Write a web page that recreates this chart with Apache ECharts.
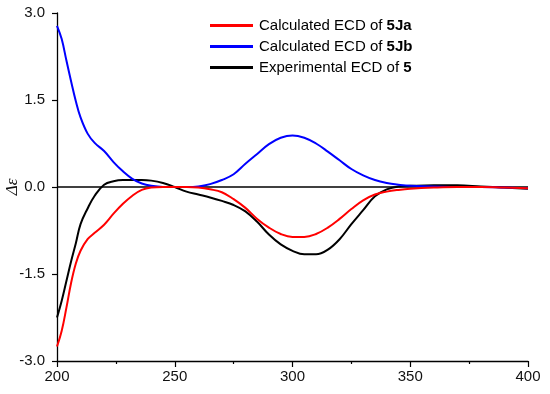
<!DOCTYPE html>
<html><head><meta charset="utf-8">
<script src="https://cdn.jsdelivr.net/npm/echarts@6/dist/echarts.min.js"></script>
<style>html,body{margin:0;padding:0;background:#fff}#c{width:550px;height:394px}</style>
</head><body><div id="c"></div>
<script>
const wavelengths = [200,202,204,206,208,210,213,216,220,224,228,232,236,240,245,250,255,260,265,270,275,280,285,290,295,300,305,310,315,320,325,330,335,340,345,350,360,370,380,390,400];
const calc5Ja = [-2.75,-2.48,-2.08,-1.65,-1.32,-1.10,-0.90,-0.79,-0.65,-0.46,-0.29,-0.15,-0.05,-0.01,0.0,0.0,0.0,-0.01,-0.04,-0.09,-0.21,-0.36,-0.55,-0.70,-0.81,-0.86,-0.86,-0.81,-0.70,-0.55,-0.38,-0.23,-0.13,-0.08,-0.05,-0.03,-0.01,0.0,0.0,-0.01,-0.02];
const calc5Jb = [2.78,2.55,2.18,1.82,1.48,1.20,0.92,0.76,0.62,0.43,0.27,0.14,0.06,0.02,0.0,0.0,0.0,0.01,0.05,0.12,0.22,0.40,0.57,0.74,0.85,0.89,0.85,0.75,0.61,0.46,0.31,0.20,0.12,0.07,0.04,0.02,0.01,0.0,0.0,-0.01,-0.02];
const experimental5 = [-2.25,-1.96,-1.62,-1.28,-0.97,-0.64,-0.37,-0.15,0.04,0.10,0.12,0.12,0.12,0.11,0.07,0.0,-0.08,-0.13,-0.18,-0.24,-0.31,-0.42,-0.60,-0.82,-0.99,-1.10,-1.16,-1.16,-1.08,-0.90,-0.64,-0.40,-0.16,-0.04,0.01,0.02,0.03,0.03,0.01,-0.01,-0.03];
const seriesNames = ['Calculated ECD of 5Ja','Calculated ECD of 5Jb','Experimental ECD of 5'];
const seriesColors = ['#ff0000','#0000ff','#000000'];
const xRange = [200, 400];
const yRange = [-3, 3];

const pairs = arr => wavelengths.map((w,i)=>[w, arr[i]]);
const values = [calc5Ja, calc5Jb, experimental5];

const chart = echarts.init(document.getElementById('c'), null, {renderer:'canvas'});
const font = '"Liberation Sans", Arial, sans-serif';
chart.setOption({
  animation:false,
  grid:{left:57,right:22,top:13,bottom:33,containLabel:false,outerBoundsMode:'none'},
  legend:{
    orient:'vertical', left:210, top:18, padding:0, itemWidth:43, itemHeight:3, itemGap:6,
    icon:'rect',
    data:seriesNames,
    formatter: n => { const p = n.lastIndexOf(' '); return n.slice(0,p+1) + '{b|' + n.slice(p+1) + '}'; },
    textStyle:{fontFamily:font,fontSize:15,lineHeight:14,color:'#000',padding:[0,0,0,1],
      rich:{b:{fontFamily:font,fontSize:15,lineHeight:14,fontWeight:'bold',color:'#000'}}}
  },
  xAxis:{type:'value',min:xRange[0],max:xRange[1],interval:50,
    axisLine:{onZero:false,lineStyle:{color:'#000',width:1.3}},
    axisTick:{length:6,lineStyle:{color:'#000',width:1.2}},
    minorTick:{show:true,splitNumber:2,length:3,lineStyle:{color:'#000',width:1.2}},
    axisLabel:{fontFamily:font,fontSize:15,color:'#111',margin:8},
    splitLine:{show:false}},
  yAxis:{type:'value',min:yRange[0],max:yRange[1],interval:1.5,
    name:'Δε',nameLocation:'middle',nameGap:36,nameRotate:90,nameMoveOverlap:false,
    nameTextStyle:{fontFamily:'"Liberation Serif", serif',fontStyle:'italic',fontSize:17,color:'#111'},
    axisLine:{show:true,lineStyle:{color:'#000',width:1.3}},
    axisTick:{show:true,length:5,lineStyle:{color:'#000',width:1.2}},
    axisLabel:{fontFamily:font,fontSize:15,color:'#111',margin:12,formatter:v=>v.toFixed(1)},
    splitLine:{show:false}},
  series:[
    {name:'zero',type:'line',data:[[xRange[0],0],[xRange[1],0]],symbol:'none',silent:true,
      lineStyle:{color:'#000',width:1.4},z:1},
    ...seriesNames.map((n,i)=>({name:n,type:'line',data:pairs(values[i]),smooth:0.4,symbol:'none',
      itemStyle:{color:seriesColors[i]},lineStyle:{color:seriesColors[i],width:2},z:2+ (2-i)}))
  ]
});
</script></body></html>
